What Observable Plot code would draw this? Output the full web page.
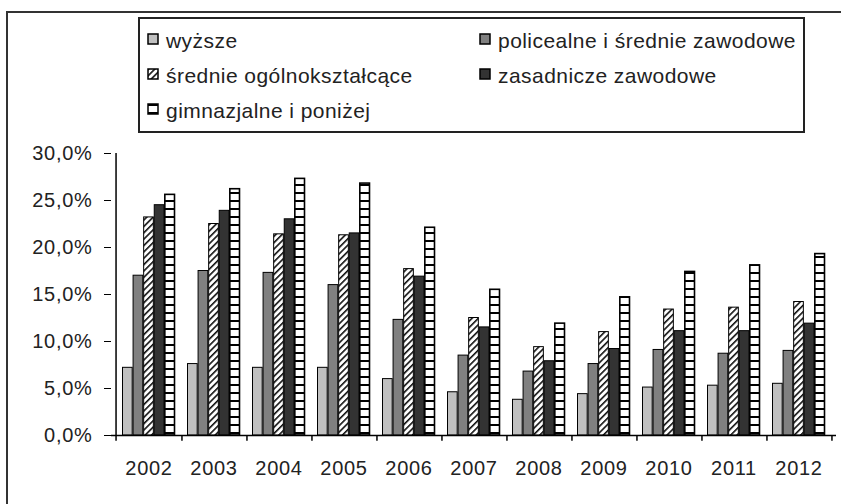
<!DOCTYPE html>
<html><head><meta charset="utf-8">
<script src="https://cdn.jsdelivr.net/npm/d3@7"></script>
<script src="https://cdn.jsdelivr.net/npm/@observablehq/plot@0.6"></script>
<style>
body{margin:0;background:#fff;font-family:"Liberation Sans",Arial,sans-serif;}
#wrap{position:relative;width:841px;height:504px;overflow:hidden;}
#frame{position:absolute;left:6px;top:11px;width:900px;height:600px;border:2px solid #333;box-sizing:border-box;pointer-events:none;}
#legend{position:absolute;left:0;top:0;pointer-events:none;}
#wrap svg text{font-family:"Liberation Sans",Arial,sans-serif;}
#wrap svg.chart text{letter-spacing:0.7px;}
#legend text{letter-spacing:0.45px;}
</style>
</head><body>
<svg width="0" height="0" style="position:absolute">
  <defs>
    <pattern id="pDiag" patternUnits="userSpaceOnUse" width="4.5" height="4.5" patternTransform="rotate(45)">
      <rect width="4.5" height="4.5" fill="#fff"/>
      <line x1="0.8" y1="0" x2="0.8" y2="4.5" stroke="#000" stroke-width="1.5"/>
    </pattern>
    <pattern id="pHoriz" patternUnits="userSpaceOnUse" width="8" height="8">
      <rect width="8" height="8" fill="#fff"/>
      <line x1="0" y1="1" x2="8" y2="1" stroke="#000" stroke-width="2"/>
    </pattern>
  </defs>
</svg>
<div id="wrap"><div id="frame"></div></div>
<script>
const years = ["2002","2003","2004","2005","2006","2007","2008","2009","2010","2011","2012"];
const seriesNames = ["wyższe","policealne i średnie zawodowe","średnie ogólnokształcące","zasadnicze zawodowe","gimnazjalne i poniżej"];
const wyzsze      = [7.2, 7.6, 7.2, 7.2, 6.0, 4.6, 3.8, 4.4, 5.1, 5.3, 5.5];
const policealne  = [17.0, 17.5, 17.3, 16.0, 12.3, 8.5, 6.8, 7.6, 9.1, 8.7, 9.0];
const srednie     = [23.2, 22.5, 21.4, 21.3, 17.7, 12.5, 9.4, 11.0, 13.4, 13.6, 14.2];
const zasadnicze  = [24.5, 23.9, 23.0, 21.5, 16.9, 11.5, 7.9, 9.2, 11.1, 11.1, 11.9];
const gimnazjalne = [25.6, 26.2, 27.3, 26.8, 22.1, 15.5, 11.9, 14.7, 17.4, 18.1, 19.3];
const yTicks = [0, 5, 10, 15, 20, 25, 30];

const seriesValues = [wyzsze, policealne, srednie, zasadnicze, gimnazjalne];
const fills = ["#c0c0c0", "#808080", "url(#pDiag)", "#333333", "url(#pHoriz)"];

const W = 841, H = 504, mL = 111, mR = 5, mT = 153, mB = 69;
const step = (W - mL - mR) / years.length;
const groupPad = 6.5;
const barW = (step - 2 * groupPad) / 5;

const table = years.map((y, j) => {
  const o = {year: y};
  seriesValues.forEach((arr, i) => o["s" + i] = arr[j]);
  return o;
});

const barMarks = seriesValues.map((arr, i) => Plot.barY(table, {
  x: "year", y: "s" + i,
  fill: fills[i], stroke: "#000", strokeWidth: i === 4 ? 1.6 : 1,
  insetLeft: groupPad + i * barW,
  insetRight: step - groupPad - (i + 1) * barW
}));

const chart = Plot.plot({
  width: W, height: H,
  marginLeft: mL, marginRight: mR, marginTop: mT, marginBottom: mB,
  style: {fontFamily: "Liberation Sans, Arial, sans-serif", color: "#222", background: "transparent"},
  x: {type: "band", domain: years, padding: 0, label: null},
  y: {domain: [0, 30], label: null},
  marks: [
    ...barMarks,
    Plot.ruleY([0], {stroke: "#000", strokeWidth: 1.5}),
    Plot.ruleX([years[0]], {y1: -0.6, y2: 30, dx: -step / 2, stroke: "#000", strokeWidth: 1.5}),
    Plot.ruleX(years, {y1: 0, y2: -0.6, dx: step / 2, stroke: "#000", strokeWidth: 1.5}),
    Plot.axisY({ticks: yTicks, tickSize: 7, tickPadding: 12, fontSize: 20, stroke: "#000",
      tickFormat: d => d.toFixed(1).replace(".", ",") + "%"}),
    Plot.axisX({tickSize: 0, tickPadding: 25, fontSize: 20})
  ]
});
chart.classList.add("chart");
const wrap = document.getElementById("wrap");
wrap.insertBefore(chart, wrap.firstChild);

// legend overlay
const ns = "http://www.w3.org/2000/svg";
const lg = document.createElementNS(ns, "svg");
lg.setAttribute("id", "legend");
lg.setAttribute("width", W); lg.setAttribute("height", H);
const box = document.createElementNS(ns, "rect");
box.setAttribute("x", 139); box.setAttribute("y", 18); box.setAttribute("width", 665); box.setAttribute("height", 114);
box.setAttribute("fill", "#fff"); box.setAttribute("stroke", "#222"); box.setAttribute("stroke-width", 2);
lg.appendChild(box);
const pos = [[148, 48], [480, 48], [148, 83], [480, 83], [148, 118]];
seriesNames.forEach((name, i) => {
  const [x, y] = pos[i];
  const r = document.createElementNS(ns, "rect");
  r.setAttribute("x", x); r.setAttribute("y", y - 14); r.setAttribute("width", 10); r.setAttribute("height", 10);
  r.setAttribute("fill", fills[i]); r.setAttribute("stroke", "#000"); r.setAttribute("stroke-width", 1.5);
  lg.appendChild(r);
  const t = document.createElementNS(ns, "text");
  t.setAttribute("x", x + 18); t.setAttribute("y", y);
  t.setAttribute("font-size", 21); t.setAttribute("fill", "#222");
  t.textContent = name;
  lg.appendChild(t);
});
wrap.appendChild(lg);
</script>
</body></html>
